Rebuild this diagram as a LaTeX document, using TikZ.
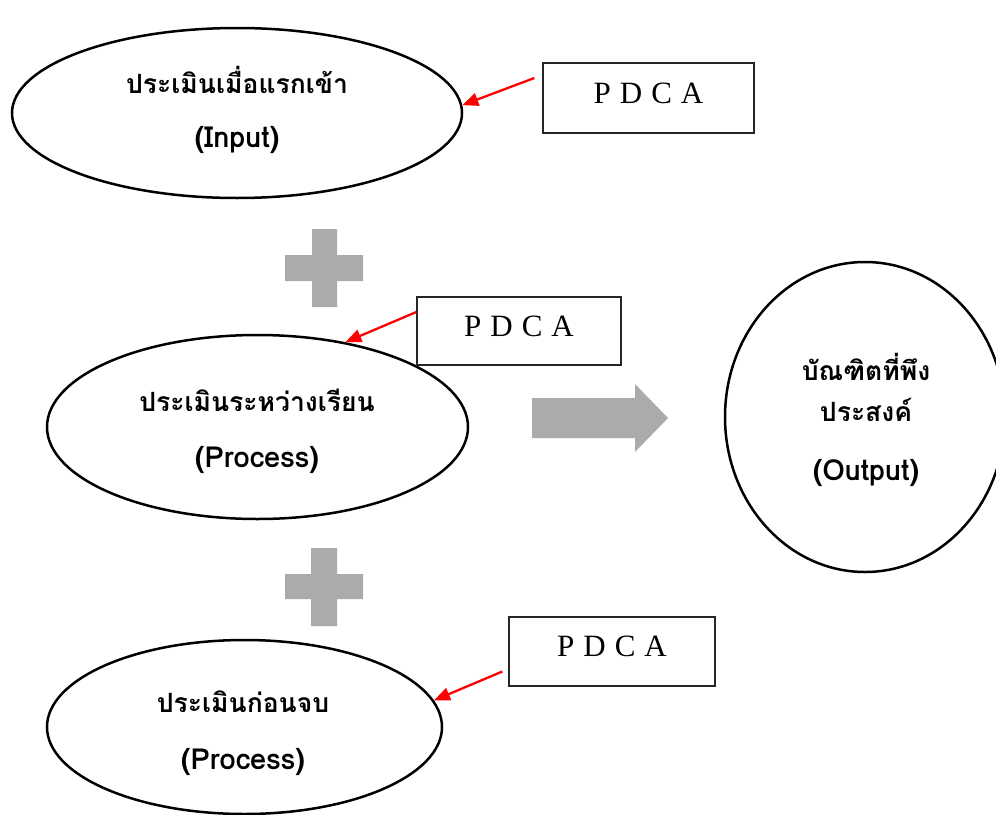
\documentclass[tikz,border=0pt]{standalone}
\usepackage{fontspec}
\newfontfamily\thaifont[Script=Thai]{Loma}
\newfontfamily\pdcafont{Liberation Serif}
\usetikzlibrary{shapes.geometric,arrows.meta}
\definecolor{plusgray}{HTML}{ABABAB}
\newcommand{\pdcatext}{P\hspace{9pt}D\hspace{9pt}C\hspace{9pt}A}
\tikzset{
  evalell/.style={ellipse, draw=black, line width=2.5pt, inner sep=0pt},
  thaitext/.style={font=\thaifont\bfseries\fontsize{26.5}{30}\selectfont, inner sep=0pt},
  latintext/.style={font=\thaifont\bfseries\fontsize{29}{33}\selectfont, inner sep=0pt},
  pdcabox/.style={draw=black!85, line width=1.3pt, inner sep=0pt,
    font=\pdcafont\fontsize{31}{35}\selectfont, text height=21pt, text depth=11pt},
  redarrow/.style={draw=red, line width=2.3pt, -{Triangle[length=16pt,width=13pt]}},
  grayshape/.style={fill=plusgray, draw=none}
}
\begin{document}
\begin{tikzpicture}[x=1pt,y=-1pt]
\useasboundingbox (0,0) rectangle (996,814);
% ellipses
\node[evalell, minimum width=450pt, minimum height=170pt] (e1) at (237,113) {};
\node[evalell, minimum width=421pt, minimum height=184pt] (e2) at (257.5,427) {};
\node[evalell, minimum width=395pt, minimum height=174pt] (e3) at (244.5,727) {};
\node[evalell, minimum width=280pt, minimum height=310pt] (out) at (865,417) {};
% texts
\node[thaitext] (t1a) at (237,80) {ประเมินเมื่อแรกเข้า};
\node[latintext] (t1b) at (237,140) {(Input)};
\node[thaitext] (t2a) at (257,400) {ประเมินระหว่างเรียน};
\node[latintext] (t2b) at (257,460) {(Process)};
\node[thaitext] (t3a) at (243,702) {ประเมินก่อนจบ};
\node[latintext] (t3b) at (243,762) {(Process)};
\node[thaitext] (toa) at (866,367) {บัณฑิตที่พึง};
\node[thaitext] (tob) at (866,410) {ประสงค์};
\node[latintext] (toc) at (866,473) {(Output)};
% PDCA boxes
\node[pdcabox, minimum width=211pt, minimum height=70pt] (p1) at (648.5,98) {\pdcatext};
\node[pdcabox, minimum width=204pt, minimum height=68pt] (p2) at (519,331) {\pdcatext};
\node[pdcabox, minimum width=206pt, minimum height=69pt] (p3) at (612,651.5) {\pdcatext};
% red arrows
\draw[redarrow] ([xshift=-8pt,yshift=20pt]p1.west) -- (e1.2);
\draw[redarrow] ([yshift=19pt]p2.west) -- (e2.44);
\draw[redarrow] ([xshift=-6pt,yshift=-20pt]p3.west) -- (e3.8);
% plus signs
\fill[grayshape] (312,229) -- (337,229) -- (337,255) -- (363,255) -- (363,281) -- (337,281)
  -- (337,307) -- (312,307) -- (312,281) -- (285,281) -- (285,255) -- (312,255) -- cycle;
\fill[grayshape] (311,548) -- (337,548) -- (337,574) -- (363,574) -- (363,599) -- (337,599)
  -- (337,626) -- (311,626) -- (311,599) -- (285,599) -- (285,574) -- (311,574) -- cycle;
% big arrow
\fill[grayshape] (532,398) -- (635,398) -- (635,384) -- (668,418) -- (635,452) -- (635,438)
  -- (532,438) -- cycle;
\end{tikzpicture}
\end{document}
